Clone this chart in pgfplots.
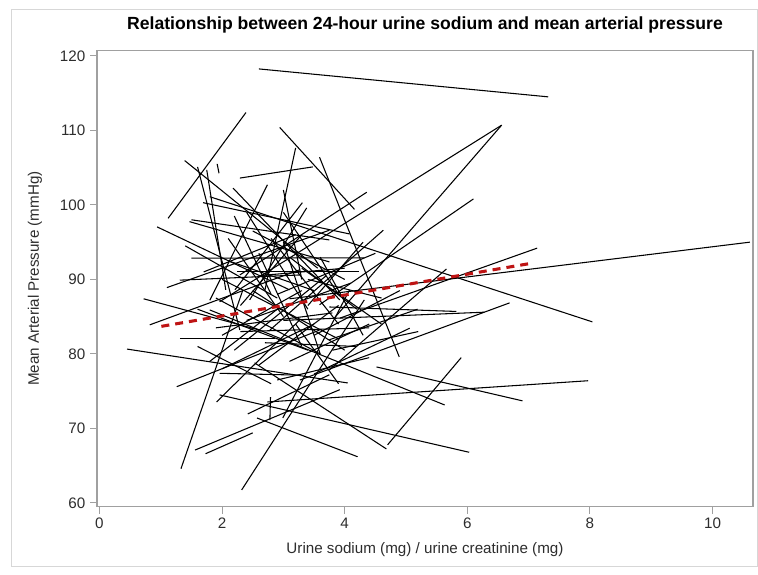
\documentclass[border=0pt]{standalone}
\usepackage{fontspec}
\setmainfont{Liberation Sans}
\usepackage{pgfplots}
\pgfplotsset{compat=1.18}
\definecolor{framegray}{RGB}{160,160,160}
\definecolor{outergray}{RGB}{215,215,215}
\definecolor{txt}{RGB}{45,45,45}
\definecolor{regred}{RGB}{190,20,20}
\begin{document}
\begin{tikzpicture}[x=1pt,y=1pt]
\path[use as bounding box] (0,0) rectangle (568.5,431.25);
\draw[outergray, line width=0.75pt] (8.25,6) rectangle (568.1,423.75);
\begin{axis}[
  at={(72.75pt,51.25pt)}, anchor=south west,
  scale only axis, width=492pt, height=342pt,
  xmin=-0.04, xmax=10.66, ymin=59.5, ymax=120.7,
  xtick={0,2,4,6,8,10}, ytick={60,70,80,90,100,110,120},
  tick align=outside, tick pos=left, major tick length=5.25pt,
  axis line style={framegray, line width=0.8pt},
  every tick/.style={framegray, line width=0.8pt},
  /pgf/number format/assume math mode=true,
  tick label style={font=\fontsize{11.4}{13}\selectfont, text=txt},
  title={Relationship between 24-hour urine sodium and mean arterial pressure},
  title style={at={(axis description cs:0.5,1.039)}, anchor=center, font=\fontsize{13.2}{15}\selectfont\bfseries, text=black},
  xlabel={Urine sodium (mg) / urine creatinine (mg)},
  ylabel={Mean Arterial Pressure (mmHg)},
  every axis x label/.style={at={(axis description cs:0.5,-0.095)}, anchor=center, font=\fontsize{11.4}{13}\selectfont, text=txt},
  every axis y label/.style={at={(axis description cs:-0.0945,0.5)}, rotate=90, anchor=center, font=\fontsize{11.4}{13}\selectfont, text=txt},
  clip=true,
  seg/.style={black, line width=0.8pt, mark=none, solid},
]
\addplot[seg] coordinates {(2.60,118.25) (7.32,114.5)};
\addplot[seg] coordinates {(1.12,98.2) (2.39,112.4)};
\addplot[seg] coordinates {(1.92,105.5) (1.95,104.25)};
\addplot[seg] coordinates {(1.39,105.95) (3.56,91.5)};
\addplot[seg] coordinates {(2.94,110.4) (4.16,99.4)};
\addplot[seg] coordinates {(3.59,106.4) (4.89,79.6)};
\addplot[seg] coordinates {(2.29,103.6) (3.48,105.1)};
\addplot[seg] coordinates {(3.20,107.65) (2.70,88.6)};
\addplot[seg] coordinates {(1.96,87.0) (6.56,110.7)};
\addplot[seg] coordinates {(3.83,84.8) (6.56,110.7)};
\addplot[seg] coordinates {(2.29,90.6) (4.36,101.7)};
\addplot[seg] coordinates {(2.78,83.2) (4.63,96.6)};
\addplot[seg] coordinates {(3.59,86.6) (6.10,100.8)};
\addplot[seg] coordinates {(3.75,77.85) (5.66,91.4)};
\addplot[seg] coordinates {(3.27,76.5) (6.69,86.85)};
\addplot[seg] coordinates {(3.0,84.5) (6.28,85.6)};
\addplot[seg] coordinates {(1.80,101.1) (8.04,84.3)};
\addplot[seg] coordinates {(3.92,84.8) (7.14,94.2)};
\addplot[seg] coordinates {(3.10,87.4) (10.61,95.0)};
\addplot[seg] coordinates {(2.74,73.55) (7.97,76.4)};
\addplot[seg] coordinates {(4.52,78.25) (6.90,73.7)};
\addplot[seg] coordinates {(1.80,85.9) (5.63,73.15)};
\addplot[seg] coordinates {(4.70,67.8) (5.90,79.5)};
\addplot[seg] coordinates {(1.96,74.5) (6.03,66.8)};
\addplot[seg] coordinates {(2.57,71.4) (4.21,66.2)};
\addplot[seg] coordinates {(2.53,78.8) (4.68,67.25)};
\addplot[seg] coordinates {(0.94,97.05) (3.10,88.6)};
\addplot[seg] coordinates {(1.69,100.3) (4.08,96.1)};
\addplot[seg] coordinates {(1.50,92.85) (4.32,92.9)};
\addplot[seg] coordinates {(0.45,80.65) (4.05,76.1)};
\addplot[seg] coordinates {(1.26,75.6) (3.59,83.2)};
\addplot[seg] coordinates {(1.33,64.6) (2.34,88.6)};
\addplot[seg] coordinates {(1.56,67.1) (3.92,75.2)};
\addplot[seg] coordinates {(1.73,66.6) (2.50,69.4)};
\addplot[seg] coordinates {(2.32,61.75) (4.32,87.25)};
\addplot[seg] coordinates {(2.42,71.95) (3.75,77.2)};
\addplot[seg] coordinates {(2.79,74.2) (2.78,71.1)};
\addplot[seg] coordinates {(1.75,104.7) (2.06,88.6)};
\addplot[seg] coordinates {(1.60,105.1) (2.29,83.2)};
\addplot[seg] coordinates {(2.74,102.7) (1.80,87.2)};
\addplot[seg] coordinates {(3.31,100.3) (2.21,88.6)};
\addplot[seg] coordinates {(1.10,88.9) (3.75,96.6)};
\addplot[seg] coordinates {(0.82,83.9) (3.27,91.3)};
\addplot[seg] coordinates {(1.31,82.1) (2.86,82.1)};
\addplot[seg] coordinates {(0.72,87.4) (2.61,83.2)};
\addplot[seg] coordinates {(2.18,102.25) (3.92,87.25)};
\addplot[seg] coordinates {(1.47,97.75) (3.75,92.35)};
\addplot[seg] coordinates {(3.38,99.6) (2.45,87.25)};
\addplot[seg] coordinates {(5.19,86.0) (3.75,81.9)};
\addplot[seg] coordinates {(5.06,83.45) (3.5,77.3)};
\addplot[seg] coordinates {(3.75,86.3) (5.82,85.7)};
\addplot[seg] coordinates {(2.99,71.4) (4.08,88.6)};
\addplot[seg] coordinates {(1.91,73.55) (3.27,84.6)};
\addplot[seg] coordinates {(1.96,77.4) (3.27,77.15)};
\addplot[seg] coordinates {(1.50,98.0) (3.75,95.3)};
\addplot[seg] coordinates {(1.31,89.9) (3.27,90.6)};
\addplot[seg] coordinates {(2.24,91.0) (4.24,91.0)};
\addplot[seg] coordinates {(2.0,90.0) (3.9,82.0)};
\addplot[seg] coordinates {(2.4,84.5) (4.1,89.5)};
\addplot[seg] coordinates {(3.0,95.0) (3.6,80.0)};
\addplot[seg] coordinates {(2.2,80.5) (3.7,90.5)};
\addplot[seg] coordinates {(1.6,86.0) (3.4,80.5)};
\addplot[seg] coordinates {(3.3,91.5) (4.6,84.0)};
\addplot[seg] coordinates {(2.6,93.5) (3.3,81.0)};
\addplot[seg] coordinates {(1.9,83.5) (3.8,85.5)};
\addplot[seg] coordinates {(2.9,88.0) (4.5,93.5)};
\addplot[seg] coordinates {(3.5,82.5) (4.9,88.5)};
\addplot[seg] coordinates {(2.1,95.5) (3.0,85.0)};
\addplot[seg] coordinates {(3.1,79.0) (4.4,84.0)};
\addplot[seg] coordinates {(1.4,94.5) (2.9,87.5)};
\addplot[seg] coordinates {(2.5,88.5) (4.0,80.5)};
\addplot[seg] coordinates {(3.6,93.0) (4.3,82.5)};
\addplot[seg] coordinates {(2.0,78.0) (3.5,84.0)};
\addplot[seg] coordinates {(2.7,81.5) (4.2,81.0)};
\addplot[seg] coordinates {(3.0,99.0) (3.9,88.0)};
\addplot[seg] coordinates {(1.7,91.0) (3.2,96.0)};
\addplot[seg] coordinates {(2.3,86.5) (3.3,96.0)};
\addplot[seg] coordinates {(3.8,80.5) (5.2,83.0)};
\addplot[seg] coordinates {(2.9,76.5) (4.4,79.5)};
\addplot[seg] coordinates {(2.2,98.5) (2.8,88.0)};
\addplot[seg] coordinates {(3.4,86.5) (4.3,95.0)};
\addplot[seg] coordinates {(1.8,79.0) (2.9,86.0)};
\addplot[seg] coordinates {(2.6,90.5) (4.0,91.5)};
\addplot[seg] coordinates {(3.2,84.0) (3.9,76.0)};
\addplot[seg] coordinates {(2.1,92.5) (3.5,88.5)};
\addplot[seg] coordinates {(2.8,95.5) (3.9,84.0)};
\addplot[seg] coordinates {(1.9,87.5) (3.6,80.0)};
\addplot[seg] coordinates {(2.4,99.0) (3.4,86.0)};
\addplot[seg] coordinates {(3.1,93.0) (4.2,86.0)};
\addplot[seg] coordinates {(2.0,82.5) (3.3,88.5)};
\addplot[seg] coordinates {(2.6,78.5) (3.9,86.5)};
\addplot[seg] coordinates {(3.4,90.0) (4.6,87.5)};
\addplot[seg] coordinates {(1.6,81.0) (2.8,76.0)};
\addplot[seg] coordinates {(2.3,83.0) (4.4,83.5)};
\addplot[seg] coordinates {(3.0,102.0) (3.3,90.0)};
\addplot[seg] coordinates {(2.5,96.5) (4.0,90.0)};
% regression line
\addplot[regred, line width=2.3pt, mark=none, dash pattern=on 6pt off 4.5pt] coordinates {(1.01,83.7) (4.0,87.9) (7.0,92.1)};
\end{axis}
\end{tikzpicture}
\end{document}
